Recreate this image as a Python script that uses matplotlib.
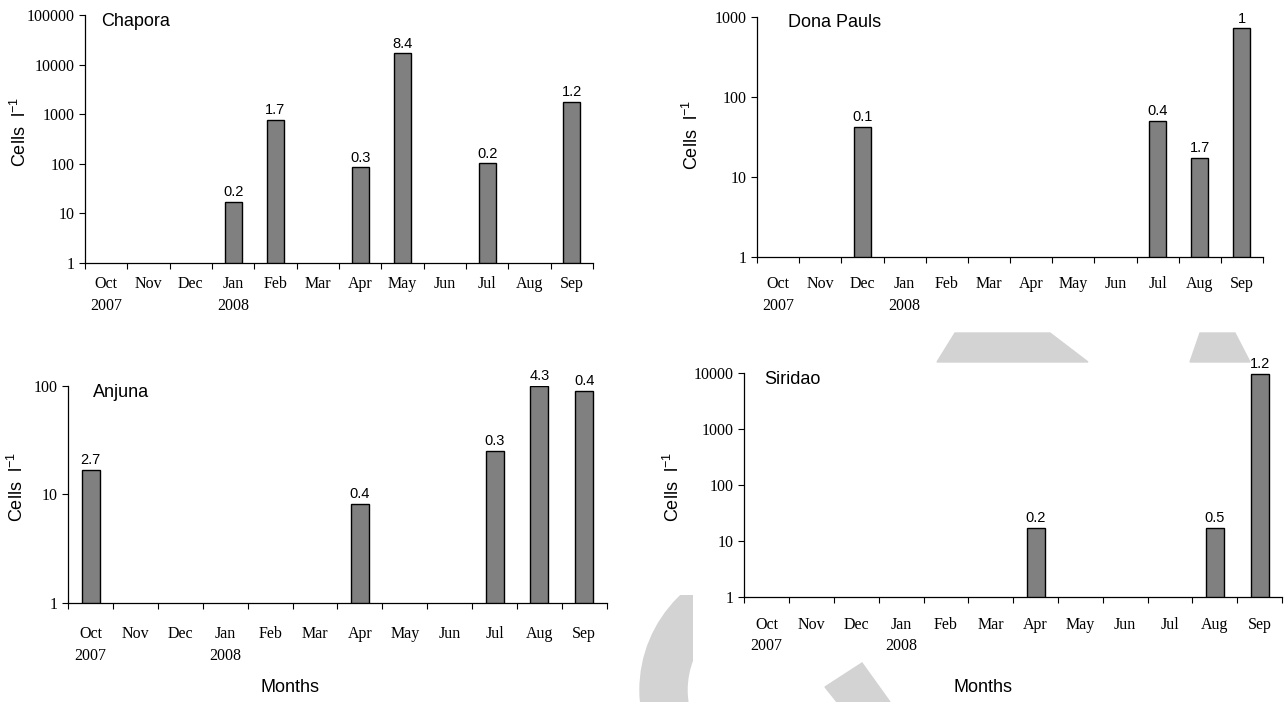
import matplotlib
matplotlib.use("Agg")
import matplotlib.pyplot as plt
import numpy as np
from matplotlib.patches import Polygon, Wedge
from matplotlib.ticker import FixedFormatter, FixedLocator, FuncFormatter, NullFormatter, NullLocator
from matplotlib.transforms import Affine2D

# month axis (Oct 2007 - Sep 2008)
MONTHS = ["Oct\n2007", "Nov", "Dec", "Jan\n2008", "Feb", "Mar",
          "Apr", "May", "Jun", "Jul", "Aug", "Sep"]

# cell counts (cells l-1), 0 = not detected
chapora_cells = [0, 0, 0, 17, 760, 0, 85, 16900, 0, 102, 0, 1740]
dona_pauls_cells = [0, 0, 42, 0, 0, 0, 0, 0, 0, 50, 17, 716]
anjuna_cells = [16.8, 0, 0, 0, 0, 0, 8.1, 0, 0, 25, 100, 90.6]
siridao_cells = [0, 0, 0, 0, 0, 0, 16.8, 0, 0, 0, 16.8, 9660]

# numbers printed above the bars
chapora_labels = ["", "", "", "0.2", "1.7", "", "0.3", "8.4", "", "0.2", "", "1.2"]
dona_pauls_labels = ["", "", "0.1", "", "", "", "", "", "", "0.4", "1.7", "1"]
anjuna_labels = ["2.7", "", "", "", "", "", "0.4", "", "", "0.3", "4.3", "0.4"]
siridao_labels = ["", "", "", "", "", "", "0.2", "", "", "", "0.5", "1.2"]

W, H = 1284, 702

plt.rcParams["font.family"] = ["Liberation Sans", "DejaVu Sans"]
plt.rcParams["mathtext.fontset"] = "custom"
plt.rcParams["mathtext.rm"] = "Liberation Sans"
plt.rcParams["mathtext.default"] = "regular"


def draw_panel(ax, title, cells, labels, ymax, ylab_pos, xpad):
    x = np.arange(len(MONTHS)) + 0.5
    cells = np.asarray(cells, dtype=float)
    shown = cells > 0
    ax.bar(x[shown], cells[shown] - 1, bottom=1, width=0.4,
           color="#808080", edgecolor="black", linewidth=1.0, zorder=3)
    for xi, v, lab in zip(x, cells, labels):
        if lab:
            ax.annotate(lab, (xi, v), xytext=(0, 2), textcoords="offset points",
                        ha="center", va="bottom", fontsize=10.5)

    ax.set_yscale("log")
    ax.set_ylim(1, ymax)
    ax.set_xlim(0, len(MONTHS))
    decades = [10 ** k for k in range(int(round(np.log10(ymax))) + 1)]
    ax.yaxis.set_major_locator(FixedLocator(decades))
    ax.yaxis.set_minor_locator(NullLocator())
    ax.yaxis.set_major_formatter(FuncFormatter(lambda v, _: f"{int(round(v))}"))

    ax.xaxis.set_major_locator(FixedLocator(range(len(MONTHS) + 1)))
    ax.xaxis.set_major_formatter(NullFormatter())
    ax.xaxis.set_minor_locator(FixedLocator(x))
    ax.xaxis.set_minor_formatter(FixedFormatter(MONTHS))
    ax.tick_params(axis="both", which="major", direction="out", length=4, width=0.8,
                   labelsize=11.5, labelfontfamily="Liberation Serif")
    ax.tick_params(axis="x", which="minor", length=0, pad=xpad,
                   labelsize=11.5, labelfontfamily="Liberation Serif")
    for lab in ax.xaxis.get_minorticklabels():
        lab.set_linespacing(1.45)

    for side in ("top", "right"):
        ax.spines[side].set_visible(False)
    for side in ("left", "bottom"):
        ax.spines[side].set_linewidth(0.9)

    ax.text(ylab_pos[2], 1.01, title, transform=ax.transAxes,
            ha="left", va="top", fontsize=13)
    ax.text(ylab_pos[0], ylab_pos[1], "Cells  l$^{-1}$", transform=ax.transAxes,
            rotation=90, ha="center", va="center", fontsize=13)


fig = plt.figure(figsize=(W / 100, H / 100), dpi=100)

# faint background watermark (pixel coords, y up)
px = Affine2D().scale(1 / W, 1 / H) + fig.transFigure
wm = "#d3d3d3"
arc = Wedge((770, 12), 130, 90, 270, width=47, transform=px, color=wm, zorder=0)
fig.add_artist(arc)
clip = Polygon([(0, 0), (693, 0), (693, 107), (0, 107)], transform=px)
arc.set_clip_path(clip)
fig.add_artist(Polygon([(825, 15), (862, 39), (890, 0), (837, 0)],
                       transform=px, color=wm, zorder=0))
fig.add_artist(Polygon([(937, 340), (955, 369), (1050, 369), (1088, 340)],
                       transform=px, color=wm, zorder=0))
fig.add_artist(Polygon([(1190, 340), (1200, 369), (1235, 369), (1250, 340)],
                       transform=px, color=wm, zorder=0))

ax1 = fig.add_axes([85 / W, 1 - 263 / H, 508 / W, 248 / H])
ax2 = fig.add_axes([757 / W, 1 - 256.7 / H, 506 / W, 240 / H])
ax3 = fig.add_axes([68.3 / W, 1 - 602.7 / H, 538.4 / W, 216.7 / H])
ax4 = fig.add_axes([744.3 / W, 1 - 596.7 / H, 537.7 / W, 223.4 / H])
for ax in (ax1, ax2, ax3, ax4):
    ax.patch.set_alpha(0)

draw_panel(ax1, "Chapora", chapora_cells, chapora_labels, 1e5, (-0.128, 0.528, 0.031), 9.5)
draw_panel(ax2, "Dona Pauls", dona_pauls_cells, dona_pauls_labels, 1e3, (-0.128, 0.507, 0.061), 14)
draw_panel(ax3, "Anjuna", anjuna_cells, anjuna_labels, 1e2, (-0.095, 0.534, 0.045), 17)
draw_panel(ax4, "Siridao", siridao_cells, siridao_labels, 1e4, (-0.133, 0.49, 0.037), 14.5)

fig.text(290 / W, 1 - 688 / H, "Months", ha="center", va="center", fontsize=13)
fig.text(983 / W, 1 - 688 / H, "Months", ha="center", va="center", fontsize=13)

fig.savefig("out.png", dpi=100)
